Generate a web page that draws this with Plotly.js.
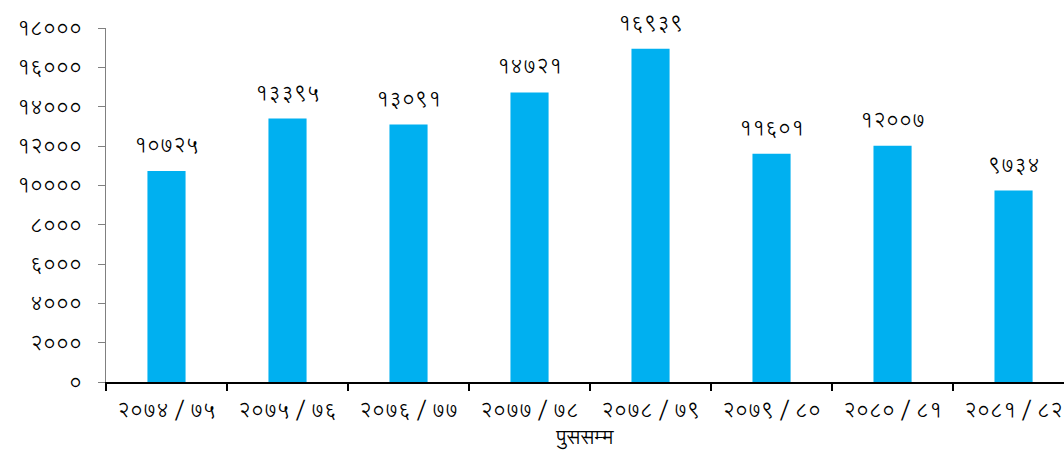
<!DOCTYPE html>
<html>
<head>
<meta charset="utf-8">
<script src="https://cdn.plot.ly/plotly-3.0.1.min.js"></script>
<style>
html,body{margin:0;padding:0;background:#fff;}
#chart{width:1064px;height:454px;}
</style>
</head>
<body>
<div id="chart"></div>
<script>
const categories = ["२०७४/७५","२०७५/७६","२०७६/७७","२०७७/७८","२०७८/७९","२०७९/८०","२०८०/८१","२०८१/८२"];
const values = [10725, 13395, 13091, 14721, 16939, 11601, 12007, 9734];
const yTickVals = [0, 2000, 4000, 6000, 8000, 10000, 12000, 14000, 16000, 18000];
const xAxisTitle = "पुससम्म";

const devDigits = "०१२३४५६७८९";
function toDev(n){ return String(n).replace(/[0-9]/g, d => devDigits[+d]); }
const yTickText = yTickVals.map(toDev);
const valueLabels = values.map(toDev);
const catLabels = categories.map(c => c.replace("/", "\u2009/\u2009"));

const FONT = "Lohit Devanagari, FreeSans, sans-serif";

const trace = {
  type: "bar",
  x: categories,
  y: values,
  marker: {color: "#00B0F0", line: {width: 0}},
  hoverinfo: "none"
};

const annotations = categories.map((c, i) => ({
  x: c, y: values[i], xref: "x", yref: "y",
  text: valueLabels[i], showarrow: false,
  yanchor: "bottom", yshift: 7,
  font: {family: FONT, size: 20, color: "#000"}
}));

const layout = {
  width: 1064, height: 454,
  margin: {l: 106, r: 0, t: 28, b: 72},
  paper_bgcolor: "#fff", plot_bgcolor: "#fff",
  showlegend: false,
  bargap: 0.685,
  annotations: annotations,
  xaxis: {
    type: "category",
    range: [-0.5, 7.417],
    tickmode: "array",
    tickvals: categories,
    ticktext: catLabels,
    tickson: "boundaries",
    ticks: "outside", ticklen: 7, tickwidth: 1.5, tickcolor: "#000",
    showline: true, linecolor: "#000", linewidth: 1.5,
    showgrid: false, zeroline: false,
    ticklabelstandoff: 9,
    tickfont: {family: FONT, size: 20, color: "#000"},
    title: {text: xAxisTitle, font: {family: FONT, size: 20, color: "#000"}, standoff: 8}
  },
  yaxis: {
    range: [0, 18000],
    tickmode: "array",
    tickvals: yTickVals,
    ticktext: yTickText,
    ticks: "outside", ticklen: 7, tickwidth: 1, tickcolor: "#808080",
    showline: true, linecolor: "#808080", linewidth: 1,
    showgrid: false, zeroline: false,
    ticklabelstandoff: 12,
    tickfont: {family: FONT, size: 20, color: "#000"}
  }
};

Plotly.newPlot("chart", [trace], layout, {displayModeBar: false, staticPlot: true});
</script>
</body>
</html>
